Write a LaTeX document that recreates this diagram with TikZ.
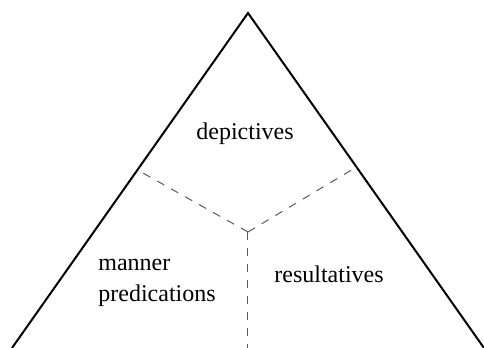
\documentclass[tikz,border=0pt]{standalone}
\usepackage{fontspec}
\setmainfont{Liberation Serif}
\usepackage{tikz}

\tikzset{
	divider/.style={dashed, dash pattern=on 4pt off 4pt, gray!70!black, line width=0.5pt},
	lbl/.style={inner sep=0pt, font=\fontsize{12}{15.8}\selectfont}
}

\begin{document}
\begin{tikzpicture}[x=0.5pt, y=0.5pt]
	\useasboundingbox (0,0) rectangle (484,348);
	%triangle, open at the bottom
	\coordinate (apex) at (248,335);
	\coordinate (leftfoot) at (12,0);
	\coordinate (rightfoot) at (484,0);
	\draw[line width=1pt] (leftfoot)--(apex)--(rightfoot);
	%division into three
	\coordinate (mid) at (248,116);
	\coordinate (leftcut) at (137.5,178);
	\coordinate (rightcut) at (356.5,181);
	\coordinate (bottomcut) at (248,0);
	\draw[divider] (mid)--(leftcut);
	\draw[divider] (mid)--(rightcut);
	\draw[divider] (mid)--(bottomcut);
	%labels
	\node[lbl, anchor=base] (depict) at (245,208) {depictives};
	\node[lbl, anchor=base west, align=left] (manner) at (98,46) {manner\\predications};
	\node[lbl, anchor=base west] (result) at (274,65) {resultatives};
\end{tikzpicture}
\end{document}
